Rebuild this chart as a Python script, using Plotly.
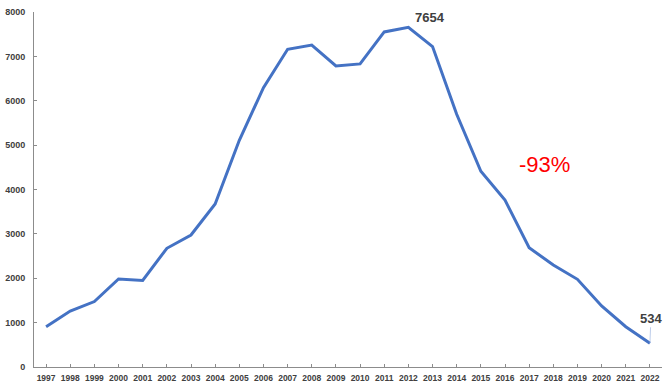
import plotly.graph_objects as go

years = list(range(1997, 2023))
values = [905, 1262, 1475, 1985, 1952, 2675, 2975, 3675, 5108, 6295,
          7160, 7255, 6785, 6830, 7550, 7654, 7220, 5695, 4412, 3760,
          2688, 2298, 1976, 1375, 908, 534]
y_ticks = [0, 1000, 2000, 3000, 4000, 5000, 6000, 7000, 8000]
peak_label = "7654"
end_label = "534"
change_label = "-93%"

fig = go.Figure()
fig.add_trace(go.Scatter(x=years, y=values, mode="lines",
                         line=dict(color="#4472C4", width=3), hoverinfo="skip",
                         cliponaxis=False))

font_family = "Liberation Sans"
fig.update_layout(
    width=670, height=389,
    margin=dict(l=34, r=8, t=12, b=22, autoexpand=False),
    paper_bgcolor="white", plot_bgcolor="white",
    showlegend=False,
    font=dict(family=font_family, color="#404040"),
    xaxis=dict(range=[1996.5, 2022.5], tickmode="array", tickvals=years,
               ticktext=[f"<b>{y}</b>" for y in years], automargin=False,
               showgrid=False, zeroline=False, showline=True, linecolor="#8c8c8c",
               linewidth=1, ticks="inside", ticklen=3, tickcolor="#8c8c8c",
               tickfont=dict(size=8.5, color="#404040", family=font_family), tickangle=0,
               ticklabelstandoff=3),
    yaxis=dict(range=[0, 8000], tickmode="array", tickvals=y_ticks,
               ticktext=[f"<b>{v}</b>" for v in y_ticks],
               automargin=False,
               showgrid=False, zeroline=False, showline=True, linecolor="#8c8c8c",
               linewidth=1, ticks="inside", ticklen=3, tickcolor="#8c8c8c",
               tickfont=dict(size=9, color="#404040", family=font_family),
               ticklabelstandoff=6),
)

fig.add_annotation(x=2012, y=values[years.index(2012)], text=f"<b>{peak_label}</b>",
                   showarrow=False, xshift=22, yshift=10,
                   font=dict(size=13, color="#404040", family=font_family))
fig.add_annotation(x=2022, y=values[-1], text=f"<b>{end_label}</b>",
                   showarrow=True, ax=1, ay=-25, arrowhead=0, arrowwidth=0.6,
                   arrowcolor="#8faadc", standoff=0,
                   font=dict(size=13, color="#404040", family=font_family))
fig.add_annotation(x=2017.65, y=4570, text=change_label, showarrow=False,
                   font=dict(size=22, color="#FF0000", family=font_family))

fig.write_html("out.html", config={"displayModeBar": False},
               post_script="document.body.style.margin='0';")
